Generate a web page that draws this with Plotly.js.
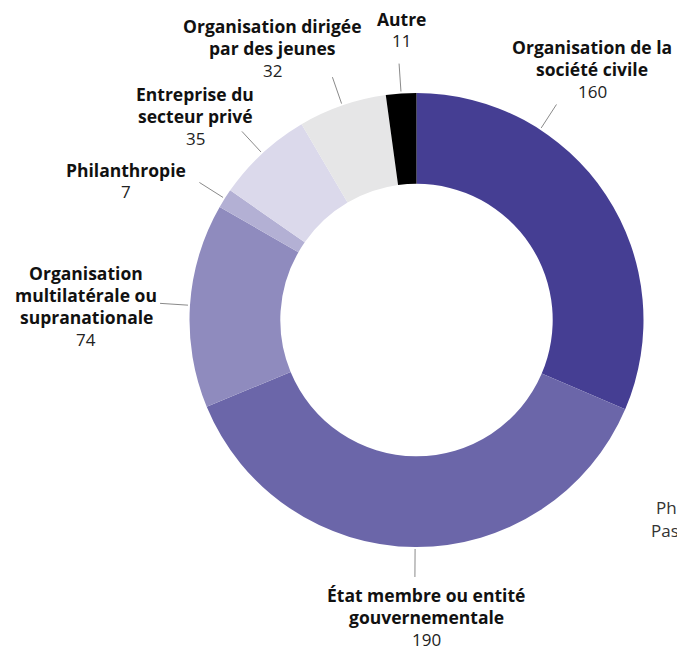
<!DOCTYPE html>
<html>
<head>
<meta charset="utf-8">
<script src="https://cdn.plot.ly/plotly-3.0.1.min.js"></script>
<style>html,body{margin:0;padding:0;background:#fff;}#chart{width:677px;height:650px;}</style>
</head>
<body>
<div id="chart"></div>
<script>
// ---- data ----
var categories = [
  "Organisation de la société civile",
  "État membre ou entité gouvernementale",
  "Organisation multilatérale ou supranationale",
  "Philanthropie",
  "Entreprise du secteur privé",
  "Organisation dirigée par des jeunes",
  "Autre"
];
var values = [160, 190, 74, 7, 35, 32, 11];
var labelLines = [
  ["Organisation de la", "société civile"],
  ["État membre ou entité", "gouvernementale"],
  ["Organisation", "multilatérale ou", "supranationale"],
  ["Philanthropie"],
  ["Entreprise du", "secteur privé"],
  ["Organisation dirigée", "par des jeunes"],
  ["Autre"]
];
var colors = ["#453e93", "#6b66a9", "#8f8bbe", "#b3b0d4", "#dbd9eb", "#e6e6e7", "#000000"];

// ---- layout / style ----
var W = 677, H = 650;
var CX = 416.5, CY = 320, R = 227;
var LINE_H = 22;
// label text centres (px) and optional leader-line angle override (deg clockwise from top)
var labelPos = [
  {x: 592, y: 69, ang: 33},
  {x: 426, y: 617},
  {x: 86, y: 306},
  {x: 126, y: 181},
  {x: 195, y: 116},
  {x: 272, y: 48},
  {x: 401, y: 30}
];
var FONT = "'Open Sans', Lato, sans-serif";

function px(x) { return x / W; }
function py(y) { return 1 - y / H; }

var total = values.reduce(function (a, b) { return a + b; }, 0);
var shapes = [], annotations = [];
var cum = 0;
for (var i = 0; i < values.length; i++) {
  var mid = (cum + values[i] / 2) / total * 360;
  cum += values[i];
  var ang = (labelPos[i].ang !== undefined ? labelPos[i].ang : mid) * Math.PI / 180;
  var r0 = R + 2, r1 = R + 30;
  shapes.push({
    type: "line", xref: "paper", yref: "paper",
    x0: px(CX + r0 * Math.sin(ang)), y0: py(CY - r0 * Math.cos(ang)),
    x1: px(CX + r1 * Math.sin(ang)), y1: py(CY - r1 * Math.cos(ang)),
    line: {color: "#8a8a8a", width: 1}
  });
  var lines = labelLines[i].slice();
  var n = lines.length + 1;
  var firstY = labelPos[i].y - (n - 1) * LINE_H / 2;
  for (var k = 0; k < n; k++) {
    var isNum = (k === n - 1);
    annotations.push({
      xref: "paper", yref: "paper", x: px(labelPos[i].x), y: py(firstY + k * LINE_H),
      xanchor: "center", yanchor: "middle", showarrow: false,
      text: isNum ? String(values[i]) : lines[k],
      font: isNum ? {family: FONT, size: 17, color: "#222222", weight: 400}
                  : {family: FONT, size: 17.5, color: "#111111", weight: 700}
    });
  }
}
// cut-off text at the right edge (from a neighbouring element)
annotations.push({xref: "paper", yref: "paper", x: px(654), y: py(507), xanchor: "left", yanchor: "middle",
  showarrow: false, text: "Ph", font: {family: FONT, size: 17, color: "#333"}});
annotations.push({xref: "paper", yref: "paper", x: px(649), y: py(530), xanchor: "left", yanchor: "middle",
  showarrow: false, text: "Pas", font: {family: FONT, size: 17, color: "#333"}});

var trace = {
  type: "pie",
  labels: categories,
  values: values,
  sort: false,
  direction: "clockwise",
  rotation: 0,
  hole: 0.6,
  textinfo: "none",
  hoverinfo: "label+value",
  marker: {colors: colors, line: {width: 0}},
  domain: {x: [(CX - R) / W, (CX + R) / W], y: [1 - (CY + R) / H, 1 - (CY - R) / H]},
  showlegend: false
};

var layout = {
  width: W, height: H,
  margin: {l: 0, r: 0, t: 0, b: 0},
  paper_bgcolor: "#ffffff",
  showlegend: false,
  shapes: shapes,
  annotations: annotations
};

Plotly.newPlot("chart", [trace], layout, {displayModeBar: false, staticPlot: true});
</script>
</body>
</html>
